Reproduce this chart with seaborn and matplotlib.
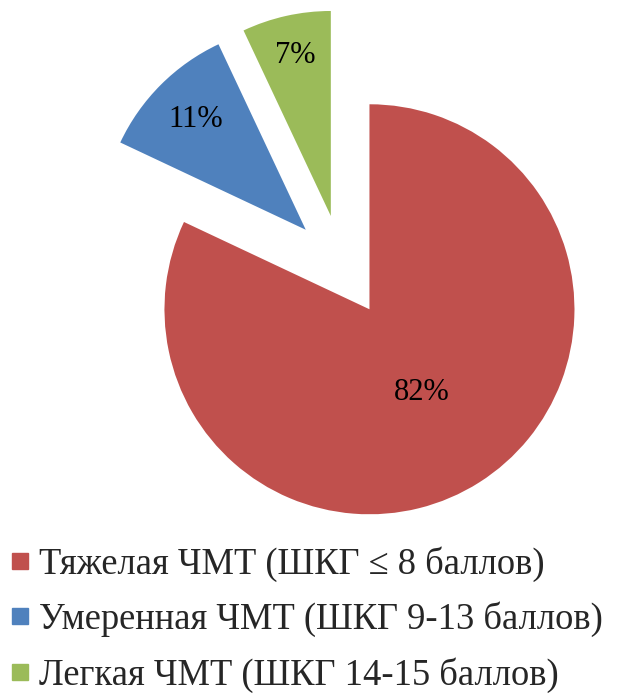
import numpy as np
import matplotlib
matplotlib.use("Agg")
import matplotlib.pyplot as plt
import seaborn as sns
from matplotlib.lines import Line2D

sns.set_style("white")
plt.rcParams['font.family'] = ['Liberation Serif', 'DejaVu Serif']

categories = ["Тяжелая ЧМТ (ШКГ ≤ 8 баллов)",
              "Умеренная ЧМТ (ШКГ 9-13 баллов)",
              "Легкая ЧМТ (ШКГ 14-15 баллов)"]
values = [82, 11, 7]
labels = ["82%", "11%", "7%"]
colors = sns.color_palette(["#C0504D", "#4F81BD", "#9BBB59"])
explode = [0.25, 0.25, 0.25]

W, H = 619, 695
fig = plt.figure(figsize=(W / 100, H / 100), dpi=100)
ax = fig.add_axes([0, 0, 1, 1])

cx, cy, R = 342, 266, 205
wedges, _ = ax.pie(values, colors=colors, explode=explode, startangle=90,
                   counterclock=False, radius=1.0,
                   wedgeprops=dict(linewidth=0))

label_dist = [0.48, 0.76, 0.80]
for w, lab, d in zip(wedges, labels, label_dist):
    ang = np.deg2rad((w.theta1 + w.theta2) / 2)
    x0, y0 = w.center
    ax.text(x0 + d * np.cos(ang), y0 + d * np.sin(ang), lab,
            ha='center', va='center', fontsize=22, color='black')

ax.set_xlim(-cx / R, (W - cx) / R)
ax.set_ylim(-(H - cy) / R, cy / R)
ax.set_aspect('auto')
ax.axis('off')

handles = [Line2D([0], [0], marker='s', linestyle='none', markersize=12,
                  markerfacecolor=c, markeredgecolor=c) for c in colors]
fig.legend(handles, categories, loc='upper left',
           bbox_to_anchor=(0.0, 1 - 535 / H), frameon=False,
           fontsize=26.3, handlelength=0.5, handletextpad=0.28,
           labelspacing=0.55, borderaxespad=0, borderpad=0.3)

fig.savefig("out.png", dpi=100)
